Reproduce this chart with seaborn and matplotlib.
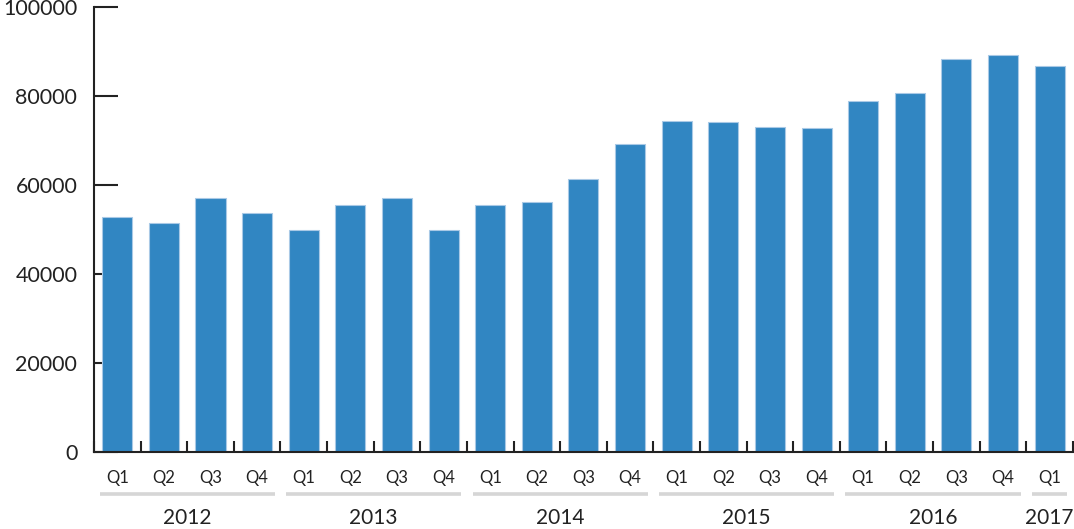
import pandas as pd
import matplotlib.pyplot as plt
import matplotlib.transforms as mtransforms
import seaborn as sns


# ============================================
# DATA
# ============================================

years = ["2012", "2013", "2014", "2015", "2016", "2017"]

quarters_per_year = [4, 4, 4, 4, 4, 1]

quarter_names = ["Q1", "Q2", "Q3", "Q4"]

values = [
    52800, 51400, 57000, 53700,
    49900, 55500, 57000, 49900,
    55500, 56100, 61300, 69100,
    74200, 74000, 73000, 72800,
    78700, 80700, 88300, 89200,
    86700,
]

y_ticks = [0, 20000, 40000, 60000, 80000, 100000]


# ============================================
# BUILD TABLE
# ============================================

periods = []
quarter_labels = []
for year, n in zip(years, quarters_per_year):
    for q in quarter_names[:n]:
        periods.append(f"{year} {q}")
        quarter_labels.append(q)

df = pd.DataFrame({
    "period": periods,
    "value": values
})


# ============================================
# PLOT
# ============================================

sns.set_style("white")
plt.rcParams["font.family"] = ["Lato", "DejaVu Sans"]

fig = plt.figure(figsize=(10.74, 5.29), dpi=100)
ax = fig.add_axes([0.0875, 0.1456, 0.9115, 0.842])

sns.barplot(
    data=df,
    x="period",
    y="value",
    order=periods,
    color="#3186c2",
    saturation=1,
    width=0.645,
    edgecolor="#a9c9e6",
    linewidth=0.8,
    ax=ax
)

n = len(periods)
ax.set_xlim(-0.5, n - 0.5)
ax.set_ylim(0, 100000)

ax.set_xlabel("")
ax.set_ylabel("")

# y axis
ax.set_yticks(y_ticks)
ax.set_yticklabels([str(v) for v in y_ticks], fontsize=15.5, color="#222222")
ax.tick_params(
    axis="y",
    direction="in",
    length=17,
    width=1.5,
    color="#222222",
    pad=12,
    left=True
)

# x axis: labels at bar centres, ticks at slot boundaries
ax.set_xticks(range(n))
ax.set_xticklabels(quarter_labels, fontsize=12, color="#222222")
ax.tick_params(axis="x", length=0, pad=13)
ax.set_xticks([i - 0.5 for i in range(n + 1)], minor=True)
ax.tick_params(
    axis="x",
    which="minor",
    direction="in",
    length=8,
    width=1.5,
    color="#222222",
    bottom=True
)

for side in ["top", "right"]:
    ax.spines[side].set_visible(False)
for side in ["left", "bottom"]:
    ax.spines[side].set_color("#222222")
    ax.spines[side].set_linewidth(1.5)

# year groups under the quarter labels
trans = mtransforms.blended_transform_factory(ax.transData, ax.transAxes)
start = 0
for year, count in zip(years, quarters_per_year):
    left = start - 0.5 + 0.12
    right = start + count - 0.5 - 0.12
    ax.plot(
        [left, right],
        [-0.094, -0.094],
        color="#d6d6d6",
        linewidth=2.6,
        transform=trans,
        clip_on=False,
        solid_capstyle="butt"
    )
    ax.text(
        start + (count - 1) / 2,
        -0.148,
        year,
        transform=trans,
        ha="center",
        va="center",
        fontsize=15,
        color="#222222"
    )
    start += count

fig.savefig("out.png", dpi=100)
